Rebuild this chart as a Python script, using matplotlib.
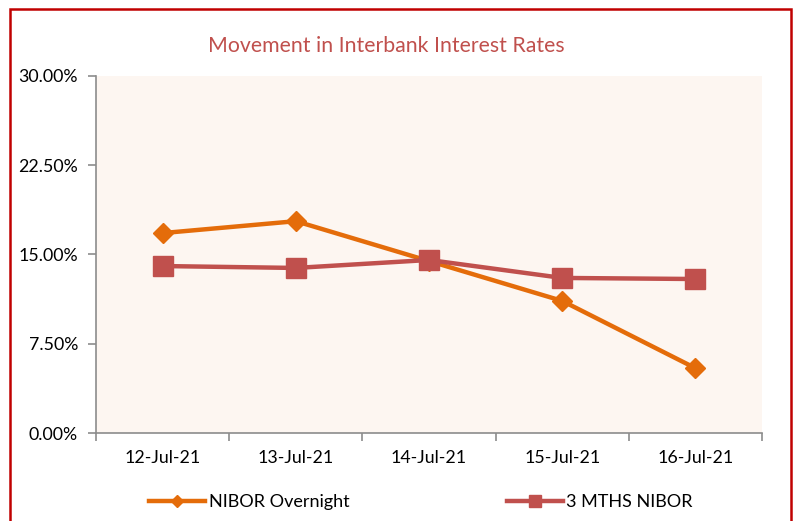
import matplotlib.pyplot as plt
from matplotlib.patches import Rectangle
from matplotlib.ticker import FuncFormatter

plt.rcParams['font.family'] = ['Lato', 'DejaVu Sans']

dates = ["12-Jul-21", "13-Jul-21", "14-Jul-21", "15-Jul-21", "16-Jul-21"]
nibor_overnight = [16.8, 17.8, 14.45, 11.1, 5.45]
nibor_3m = [14.03, 13.87, 14.54, 13.03, 12.94]

orange = "#E46C0A"
red = "#C0504D"

fig = plt.figure(figsize=(7.99, 5.21), dpi=100)
ax = fig.add_axes([96 / 799, 1 - 433 / 521, (762 - 96) / 799, (433 - 76) / 521])
ax.set_facecolor("#FDF6F1")

x = list(range(len(dates)))
ax.plot(x, nibor_overnight, color=orange, lw=3.2, marker="D", ms=10,
        label="NIBOR Overnight", solid_joinstyle="miter")
ax.plot(x, nibor_3m, color=red, lw=3.2, marker="s", ms=14,
        label="3 MTHS NIBOR")

ax.set_ylim(0, 30)
ax.set_yticks([0, 7.5, 15, 22.5, 30])
ax.yaxis.set_major_formatter(FuncFormatter(lambda v, p: f"{v:.2f}%"))
ax.set_xlim(-0.5, 4.5)
ax.set_xticks([i - 0.5 for i in range(6)])
ax.set_xticklabels([])
ax.set_xticks(x, minor=True)
ax.set_xticklabels(dates, minor=True)
ax.tick_params(axis="x", which="minor", length=0, pad=12, labelsize=12.8)
ax.tick_params(axis="x", which="major", length=6, width=1.2, color="#8C8C8C")
ax.tick_params(axis="y", length=6, width=1.2, color="#8C8C8C", labelsize=12.8, pad=7)

for s in ["top", "right"]:
    ax.spines[s].set_visible(False)
for s in ["left", "bottom"]:
    ax.spines[s].set_color("#8C8C8C")
    ax.spines[s].set_linewidth(1.2)

fig.text(386 / 799, 1 - 46 / 521, "Movement in Interbank Interest Rates",
         ha="center", va="center", fontsize=15.3, color=red)

leg = fig.legend(loc="center", bbox_to_anchor=(421 / 799, 1 - 502 / 521), ncol=2,
                 frameon=False, fontsize=13, handlelength=3.1, columnspacing=8.7,
                 handletextpad=0.2, markerscale=0.6)

fig.patches.append(Rectangle((10 / 799, -0.05), (791 - 10) / 799, 1 - 9 / 521 + 0.05,
                             transform=fig.transFigure, fill=False,
                             edgecolor="#C00000", lw=1.8))

fig.savefig("out.png", dpi=100)
